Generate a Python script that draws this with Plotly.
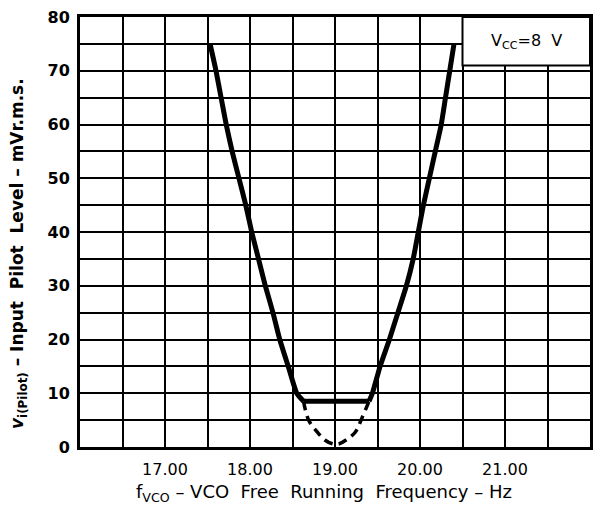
import plotly.graph_objects as go

# Data
left_f = [17.53, 17.60, 17.66, 17.72, 17.79, 17.87, 17.95, 18.02, 18.10, 18.18, 18.27, 18.35, 18.45, 18.55, 18.63]
left_v = [75, 70, 65, 60, 55, 50, 45, 40, 35, 30, 25, 20, 15, 10, 8.5]

flat_f = [18.63, 19.40]
flat_v = [8.5, 8.5]

right_f = [19.40, 19.44, 19.53, 19.64, 19.74, 19.84, 19.92, 19.98, 20.04, 20.11, 20.18, 20.25, 20.30, 20.35, 20.40]
right_v = [8.5, 10, 15, 20, 25, 30, 35, 40, 45, 50, 55, 60, 65, 70, 75]

dashed_f = [18.63, 18.69, 18.79, 18.88, 18.97, 19.05, 19.13, 19.24, 19.32, 19.40]
dashed_v = [8.5, 5.0, 2.8, 1.3, 0.6, 0.6, 1.3, 2.8, 5.5, 8.5]

x_tickvals = [17, 18, 19, 20, 21]
x_ticktext = ["17.00", "18.00", "19.00", "20.00", "21.00"]
y_tickvals = [0, 10, 20, 30, 40, 50, 60, 70, 80]
y_ticktext = ["0", "10", "20", "30", "40", "50", "60", "70", "80"]

FONT = "DejaVu Sans, Arial, sans-serif"

fig = go.Figure()
fig.add_trace(go.Scatter(x=dashed_f, y=dashed_v, mode="lines",
                         line=dict(color="black", width=3.5, dash="9px,6px", shape="spline"),
                         showlegend=False))
for fx, fy, shp in [(left_f, left_v, "spline"), (flat_f, flat_v, "linear"), (right_f, right_v, "spline")]:
    fig.add_trace(go.Scatter(x=fx, y=fy, mode="lines",
                             line=dict(color="black", width=5, shape=shp, smoothing=0.5),
                             showlegend=False))

fig.update_layout(
    width=601, height=509,
    margin=dict(l=80, r=8, t=14, b=62),
    paper_bgcolor="white", plot_bgcolor="white",
    font=dict(family=FONT, color="black"),
    xaxis=dict(range=[16, 22], tickvals=x_tickvals, ticktext=x_ticktext,
               showgrid=True, gridcolor="black", gridwidth=2,
               minor=dict(tick0=16, dtick=0.5, showgrid=True, gridcolor="black", gridwidth=2, ticks=""),
               showline=True, linecolor="black", linewidth=3, mirror=True,
               zeroline=False, ticks="", ticklabelstandoff=6,
               tickfont=dict(size=16, family=FONT, color="black")),
    yaxis=dict(range=[0, 80], tickvals=y_tickvals, ticktext=y_ticktext,
               showgrid=True, gridcolor="black", gridwidth=2,
               minor=dict(tick0=0, dtick=5, showgrid=True, gridcolor="black", gridwidth=2, ticks=""),
               showline=True, linecolor="black", linewidth=3, mirror=True,
               zeroline=False, ticks="", ticklabelstandoff=4,
               tickfont=dict(size=16, family=FONT, color="black", weight="bold")),
    shapes=[dict(type="rect", xref="x", yref="y", x0=20.5, x1=22, y0=71, y1=80,
                 fillcolor="white", line=dict(color="black", width=2), layer="above")],
    annotations=[
        dict(text="V<sub>CC</sub>=8  V", xref="x", yref="y", x=21.25, y=75.5,
             showarrow=False, font=dict(size=16, family=FONT, color="black")),
        dict(text="f<sub>VCO</sub> \u2013 VCO  Free  Running  Frequency \u2013 Hz",
             xref="paper", yref="paper", x=0.478, y=0, yshift=-46,
             xanchor="center", yanchor="middle", showarrow=False,
             font=dict(size=18, family=FONT, color="black")),
        dict(text="<i>v</i><sub>i(Pilot)</sub> \u2013 Input  Pilot  Level \u2013 mVr.m.s.",
             xref="paper", yref="paper", x=0, xshift=-62, y=0.5, yshift=-22,
             xanchor="center", yanchor="middle", textangle=-90, showarrow=False,
             font=dict(size=17, family=FONT, color="black", weight="bold")),
    ],
)

fig.write_html("out.html")
